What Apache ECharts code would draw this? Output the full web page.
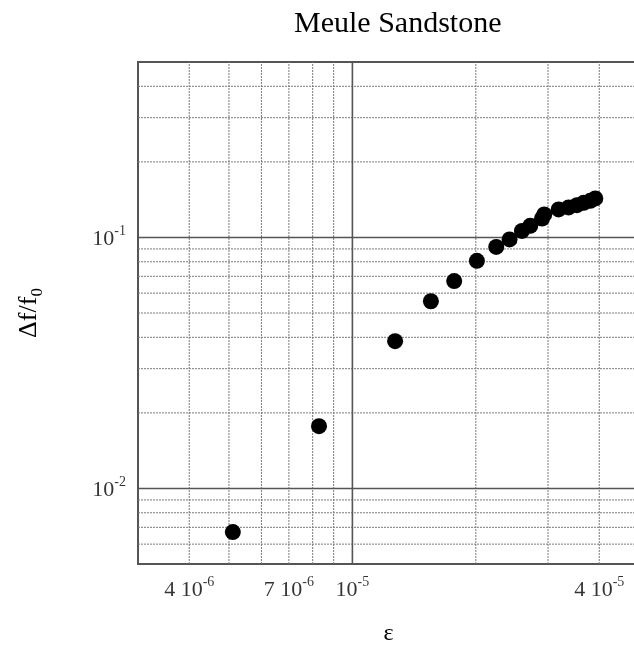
<!DOCTYPE html>
<html><head><meta charset="utf-8">
<script src="https://cdn.jsdelivr.net/npm/echarts@6/dist/echarts.min.js"></script>
<style>html,body{margin:0;padding:0;background:#fff}#c{width:634px;height:647px}</style>
</head><body><div id="c"></div>
<script>
const chartTitle = 'Meule Sandstone';
const strain = [5.11e-6, 8.29e-6, 1.271e-5, 1.554e-5, 1.771e-5, 2.012e-5, 2.243e-5, 2.417e-5, 2.591e-5, 2.715e-5, 2.900e-5, 2.937e-5, 3.184e-5, 3.368e-5, 3.529e-5, 3.664e-5, 3.804e-5, 3.912e-5];
const freqShift = [0.0067, 0.0177, 0.0386, 0.0557, 0.0670, 0.0807, 0.0917, 0.0982, 0.1062, 0.1112, 0.1190, 0.1235, 0.1293, 0.1317, 0.1345, 0.1374, 0.1399, 0.1430];
const xRange = [3e-6, 5e-5];
const yRange = [0.005, 0.5];
const xTickValues = [4e-6, 7e-6, 1e-5, 4e-5];
const xTickMantissa = ['4 10', '7 10', '10', '4 10'];
const xTickExponent = ['-6', '-6', '-5', '-5'];
const yTickValues = [0.01, 0.1];
const yTickMantissa = ['10', '10'];
const yTickExponent = ['-2', '-1'];
const xMinorGrid = [4e-6, 5e-6, 6e-6, 7e-6, 8e-6, 9e-6, 2e-5, 3e-5, 4e-5];
const xMajorGrid = [1e-5];
const yMinorGrid = [0.006, 0.007, 0.008, 0.009, 0.02, 0.03, 0.04, 0.05, 0.06, 0.07, 0.08, 0.09, 0.2, 0.3, 0.4];
const yMajorGrid = [0.01, 0.1];

const FONT = '"Liberation Serif", "Times New Roman", serif';
const minorStyle = {color: '#7a7a7a', width: 1, type: [2, 1]};
const majorStyle = {color: '#555', width: 1.6, type: 'solid'};

function gridSeries(values, vertical, style) {
  return values.map(v => ({
    type: 'line', silent: true, symbol: 'none', clip: false, z: 1,
    lineStyle: style,
    data: vertical ? [[v, yRange[0]], [v, yRange[1]]] : [[xRange[0], v], [xRange[1], v]]
  }));
}

const richNums = {
  m: {fontFamily: FONT, fontSize: 22, color: '#000', lineHeight: 26, verticalAlign: 'bottom'},
  e: {fontFamily: FONT, fontSize: 14, color: '#000', lineHeight: 26, verticalAlign: 'top'}
};

const chart = echarts.init(document.getElementById('c'), null, {renderer: 'canvas'});
chart.setOption({
  animation: false,
  backgroundColor: '#fff',
  title: {
    text: chartTitle, left: 294, top: 9, padding: 0,
    textStyle: {fontFamily: FONT, fontSize: 30, fontWeight: 'normal', color: '#000'}
  },
  grid: {left: 138, width: 501, top: 62, bottom: 83, show: true, borderColor: '#555', borderWidth: 2,
         containLabel: false, outerBoundsMode: 'none'},
  xAxis: {
    type: 'log', logBase: 10, min: xRange[0], max: xRange[1],
    axisLine: {show: false}, axisTick: {show: false}, axisLabel: {show: false}, splitLine: {show: false},
    name: 'ε', nameLocation: 'middle', nameGap: 58,
    nameTextStyle: {fontFamily: FONT, fontSize: 24, color: '#000'}
  },
  yAxis: {
    type: 'log', logBase: 10, min: yRange[0], max: yRange[1],
    axisLine: {show: false}, axisTick: {show: false}, axisLabel: {show: false}, splitLine: {show: false},
    name: '{a|Δf/f}{s|0}', nameLocation: 'middle', nameGap: 92, nameRotate: 90,
    nameTextStyle: {
      rich: {
        a: {fontFamily: FONT, fontSize: 26, color: '#000', lineHeight: 30, verticalAlign: 'top'},
        s: {fontFamily: FONT, fontSize: 17, color: '#000', lineHeight: 30, verticalAlign: 'bottom', padding: [12, 0, 0, 0]}
      }
    }
  },
  series: []
    .concat(gridSeries(xMinorGrid, true, minorStyle))
    .concat(gridSeries(yMinorGrid, false, minorStyle))
    .concat(gridSeries(xMajorGrid, true, majorStyle))
    .concat(gridSeries(yMajorGrid, false, majorStyle))
    .concat([
    {
      type: 'scatter', name: 'data', symbol: 'circle', symbolSize: 16, clip: false, z: 5,
      itemStyle: {color: '#000', opacity: 1},
      data: strain.map((x, i) => [x, freqShift[i]])
    },
    {
      type: 'scatter', silent: true, symbolSize: 0, clip: false,
      data: xTickValues.map(v => [v, yRange[0]]),
      label: {
        show: true, position: 'bottom', distance: 11,
        formatter: p => '{m|' + xTickMantissa[p.dataIndex] + '}{e|' + xTickExponent[p.dataIndex] + '}',
        rich: richNums
      }
    },
    {
      type: 'scatter', silent: true, symbolSize: 0, clip: false,
      data: yTickValues.map(v => [xRange[0], v]),
      label: {
        show: true, position: 'left', distance: 12,
        formatter: p => '{m|' + yTickMantissa[p.dataIndex] + '}{e|' + yTickExponent[p.dataIndex] + '}',
        rich: richNums
      }
    }
  ])
});
</script></body></html>
